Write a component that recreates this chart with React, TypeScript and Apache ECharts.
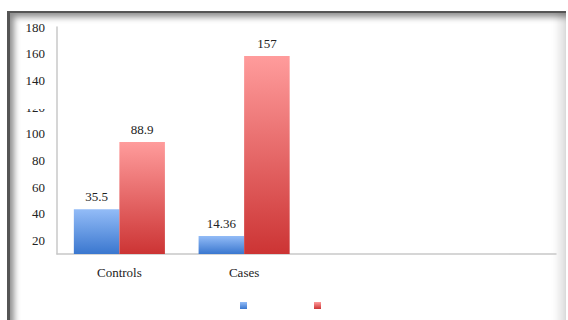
import React, { useEffect, useRef } from "react";
import * as echarts from "echarts";

const categories = ["Controls", "Cases", "", ""];
const seriesBlue = [35.5, 14.36];
const seriesRed = [88.9, 157];
const tickValues = [20, 40, 60, 80, 100, 120, 140, 160, 180];

const FONT = "'Liberation Serif', 'DejaVu Serif', serif";

export default function App() {
  const ref = useRef<HTMLDivElement>(null);
  useEffect(() => {
    if (!ref.current) return;
    const chart = echarts.init(ref.current, undefined, { renderer: "svg" });
    const grad = (top: string, bottom: string) =>
      new echarts.graphic.LinearGradient(0, 0, 0, 1, [
        { offset: 0, color: top },
        { offset: 1, color: bottom },
      ]);
    chart.setOption({
      animation: false,
      backgroundColor: "transparent",
      textStyle: { fontFamily: FONT },
      grid: { left: 57, right: 12, top: 27, bottom: 66, containLabel: false },
      legend: {
        left: 235,
        top: 297,
        itemWidth: 7,
        itemHeight: 7,
        itemGap: 67,
        icon: "rect",
        formatter: () => "",
        selectedMode: false,
        data: ["Blue", "Red"],
      },
      xAxis: {
        type: "category",
        data: categories,
        axisLine: { show: true, lineStyle: { color: "#c8c8c8", width: 1.5 } },
        axisTick: { show: false },
        axisLabel: { color: "#222", fontSize: 13, fontFamily: FONT, margin: 12 },
      },
      yAxis: [
        {
          type: "value",
          min: 0,
          max: 180,
          axisLine: { show: true, lineStyle: { color: "#c8c8c8", width: 1.5 } },
          axisTick: { show: false },
          axisLabel: { show: false },
          splitLine: { show: false },
        },
        {
          type: "value",
          position: "left",
          min: 10,
          max: 180,
          interval: 10,
          axisLine: { show: false },
          axisTick: { show: false },
          splitLine: { show: false },
          axisLabel: {
            color: "#222",
            fontSize: 13,
            fontFamily: FONT,
            margin: 12,
            formatter: (v: number) => (tickValues.indexOf(v) >= 0 ? String(v) : ""),
          },
        },
      ],
      series: [
        {
          name: "Blue",
          type: "bar",
          yAxisIndex: 0,
          data: seriesBlue,
          barGap: "0%",
          barCategoryGap: "27%",
          itemStyle: { color: grad("#93bcf7", "#3a77cf") },
          label: {
            show: true,
            position: "top",
            distance: 6,
            color: "#222",
            fontSize: 13,
            fontFamily: FONT,
          },
        },
        {
          name: "Red",
          type: "bar",
          yAxisIndex: 0,
          data: seriesRed,
          itemStyle: { color: grad("#ff9c9c", "#cc3434") },
          label: {
            show: true,
            position: "top",
            distance: 6,
            color: "#222",
            fontSize: 13,
            fontFamily: FONT,
          },
        },
      ],
      graphic: [
        {
          type: "rect",
          z: 100,
          shape: { x: 22, y: 90, width: 30, height: 19 },
          style: { fill: "#ffffff" },
        },
      ],
    });
    return () => chart.dispose();
  }, []);

  return (
    <div style={{ position: "fixed", left: 0, top: 0, width: 568, height: 320, background: "#fff", overflow: "hidden" }}>
      <div
        style={{
          position: "absolute",
          left: 7,
          top: 11,
          width: 559,
          height: 330,
          boxSizing: "border-box",
          borderTop: "2px solid #555",
          borderLeft: "3px solid #555",
          boxShadow: "inset 4px 4px 6px rgba(0,0,0,0.45), inset -7px -7px 8px rgba(0,0,0,0.12)",
          background: "#fff",
        }}
      />
      <div ref={ref} style={{ position: "absolute", left: 0, top: 0, width: 568, height: 320 }} />
    </div>
  );
}
